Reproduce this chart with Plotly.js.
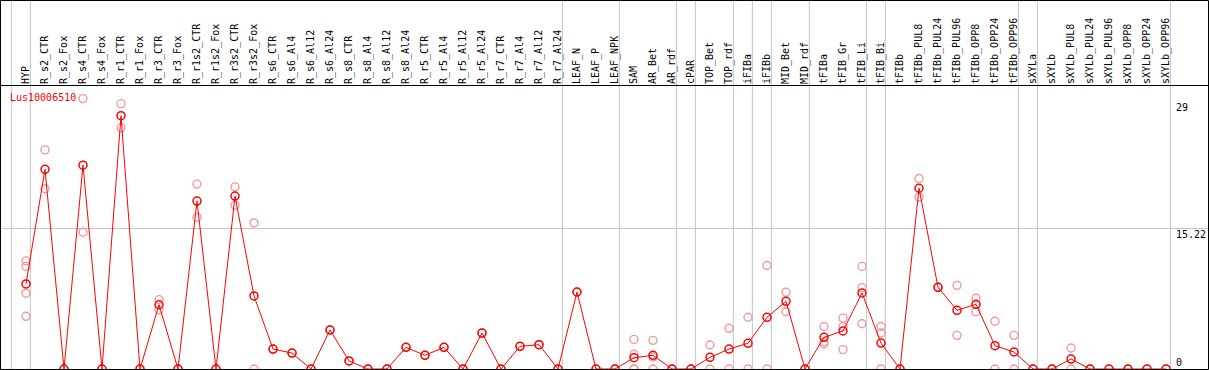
<!DOCTYPE html>
<html>
<head>
<meta charset="utf-8">
<script src="https://cdn.plot.ly/plotly-3.0.1.min.js"></script>
<style>
html, body { margin: 0; padding: 0; background: #fff; overflow: hidden; }
#chart { width: 1209px; height: 370px; }
</style>
</head>
<body>
<div id="chart"></div>
<script>
// ---------- data ----------
const geneName = 'Lus10006510';

const categories = [
  'HYP', 'R_s2_CTR', 'R_s2_Fox', 'R_s4_CTR', 'R_s4_Fox', 'R_r1_CTR', 'R_r1_Fox',
  'R_r3_CTR', 'R_r3_Fox', 'R_r1s2_CTR', 'R_r1s2_Fox', 'R_r3s2_CTR', 'R_r3s2_Fox',
  'R_s6_CTR', 'R_s6_Al4', 'R_s6_Al12', 'R_s6_Al24', 'R_s8_CTR', 'R_s8_Al4', 'R_s8_Al12',
  'R_s8_Al24', 'R_r5_CTR', 'R_r5_Al4', 'R_r5_Al12', 'R_r5_Al24', 'R_r7_CTR', 'R_r7_Al4',
  'R_r7_Al12', 'R_r7_Al24', 'LEAF_N', 'LEAF_P', 'LEAF_NPK', 'SAM', 'AR_Bet', 'AR_rdf',
  'cPAR', 'TOP_Bet', 'TOP_rdf', 'iFIBa', 'iFIBb', 'MID_Bet', 'MID_rdf', 'tFIBa',
  'tFIB_Gr', 'tFIB_Li', 'tFIB_Bi', 'tFIBb', 'tFIBb_PUL8', 'tFIBb_PUL24', 'tFIBb_PUL96',
  'tFIBb_OPP8', 'tFIBb_OPP24', 'tFIBb_OPP96', 'sXYLa', 'sXYLb', 'sXYLb_PUL8',
  'sXYLb_PUL24', 'sXYLb_PUL96', 'sXYLb_OPP8', 'sXYLb_OPP24', 'sXYLb_OPP96'
];

const meanValues = [
  9.2, 21.6, 0, 22.05, 0, 27.4, 0,
  6.95, 0, 18.17, 0, 18.7, 7.9,
  2.16, 1.72, 0, 4.22, 0.87, 0, 0,
  2.34, 1.48, 2.34, 0, 3.89, 0, 2.45,
  2.63, 0, 8.33, 0, 0, 1.22, 1.48, 0,
  0, 1.26, 2.16, 2.78, 5.59, 7.32, 0, 3.43,
  4.11, 8.22, 2.8, 0, 19.55, 8.84, 6.35,
  7.0, 2.52, 1.84, 0, 0, 1.08,
  0, 0, 0, 0, 0
];

// individual replicate values per category (same order as categories)
const replicateValues = [
  [11.7, 11.1, 8.2, 5.7], [23.7, 19.5], [0], [29.25, 14.8], [0], [28.7, 26.1], [0],
  [7.5, 6.4], [0], [20.0, 16.4], [0], [19.7, 17.7], [15.8, 0],
  [2.16], [1.72], [0], [4.22], [0.87], [0], [0],
  [2.34], [1.48], [2.34], [0], [3.89], [0], [2.45],
  [2.63], [0], [8.33], [0], [0], [3.2, 1.6, 0, 0], [3.1, 1.3, 0], [0],
  [0], [2.6, 0], [4.4, 0], [5.6, 0], [11.2, 0], [8.3, 6.2], [0], [4.6, 2.95, 2.7],
  [5.5, 4.6, 2.1], [11.1, 8.8, 4.9], [4.6, 3.9, 0], [0], [20.6, 18.6], [8.84], [9.05, 3.64],
  [7.65, 6.2], [5.16, 0], [3.64, 0], [0], [0], [2.27, 0],
  [0], [0], [0], [0], [0]
];

// index of the last category of each group (a separator follows it)
const groupEnds = [-1, 0, 28, 31, 34, 35, 37, 38, 39, 41, 44, 45, 52, 53, 60];

const yTickValues = [0, 15.22, 29];
const yTickLabels = ['0', '15.22', '29'];

// ---------- layout constants ----------
const W = 1209, H = 370, TOP = 85;
const plotH = H - TOP;
const pxToPaperY = p => (H - p) / plotH;
const MONO = 'DejaVu Sans Mono, Liberation Mono, monospace';
const RED = '#ff0000';
const PALE = '#f09a9a';
const GRID = '#c4c4c4';

const repX = [], repY = [];
replicateValues.forEach((vals, i) => {
  vals.forEach(v => { repX.push(categories[i]); repY.push(v); });
});

const traces = [
  {
    type: 'scatter', mode: 'markers', x: repX, y: repY,
    marker: { symbol: 'circle-open', size: 8, color: PALE, line: { width: 1.4, color: PALE } },
    hoverinfo: 'skip', showlegend: false
  },
  {
    type: 'scatter', mode: 'lines+markers', x: categories, y: meanValues,
    line: { color: RED, width: 1 },
    marker: { symbol: 'circle-open', size: 8, color: RED, line: { width: 1.5, color: RED } },
    showlegend: false
  }
];

const shapes = [];
groupEnds.forEach(g => {
  shapes.push({
    type: 'line', xref: 'x', yref: 'paper',
    x0: g + 0.23, x1: g + 0.23, y0: 0, y1: pxToPaperY(0),
    line: { color: GRID, width: 1 }, layer: 'below'
  });
});
// header separator
shapes.push({
  type: 'line', xref: 'paper', yref: 'paper', x0: 0, x1: 1,
  y0: pxToPaperY(85.5), y1: pxToPaperY(85.5), line: { color: '#000', width: 1 }
});
// outer frame
shapes.push({
  type: 'rect', xref: 'paper', yref: 'paper',
  x0: 0.5 / W, x1: (W - 0.5) / W, y0: pxToPaperY(H - 0.5), y1: pxToPaperY(0.5),
  line: { color: '#000', width: 1 }, fillcolor: 'rgba(0,0,0,0)'
});

const annotations = yTickValues.map((v, k) => ({
  xref: 'paper', yref: 'y', x: 1175 / W, y: v,
  xanchor: 'left', yanchor: v === 0 ? 'bottom' : 'top',
  text: yTickLabels[k], showarrow: false,
  font: { family: MONO, size: 10, color: '#000' }, borderpad: 0
}));
annotations.push({
  xref: 'paper', yref: 'paper', x: 9 / W, y: pxToPaperY(97.5),
  xanchor: 'left', yanchor: 'middle', text: geneName, showarrow: false,
  font: { family: MONO, size: 10, color: RED }, borderpad: 0
});

const layout = {
  width: W, height: H,
  margin: { l: 0, r: 0, t: TOP, b: 0, pad: 0 },
  paper_bgcolor: '#fff', plot_bgcolor: '#fff',
  showlegend: false,
  xaxis: {
    type: 'category', categoryorder: 'array', categoryarray: categories,
    range: [-26 / 19, (W - 26) / 19],
    side: 'top', tickangle: -90, ticks: '', showline: false, showgrid: false, zeroline: false,
    tickfont: { family: MONO, size: 10, color: '#000' }, automargin: false
  },
  yaxis: {
    range: [-0.108, 30.72], showticklabels: false, ticks: '',
    tickvals: yTickValues.filter(v => v > 0 && v < Math.max(...yTickValues)),
    showgrid: true, gridcolor: GRID, gridwidth: 1, zeroline: false, showline: false,
    automargin: false
  },
  shapes: shapes,
  annotations: annotations,
  font: { family: MONO, size: 10, color: '#000' }
};

Plotly.newPlot('chart', traces, layout, { staticPlot: true, displayModeBar: false });
</script>
</body>
</html>
